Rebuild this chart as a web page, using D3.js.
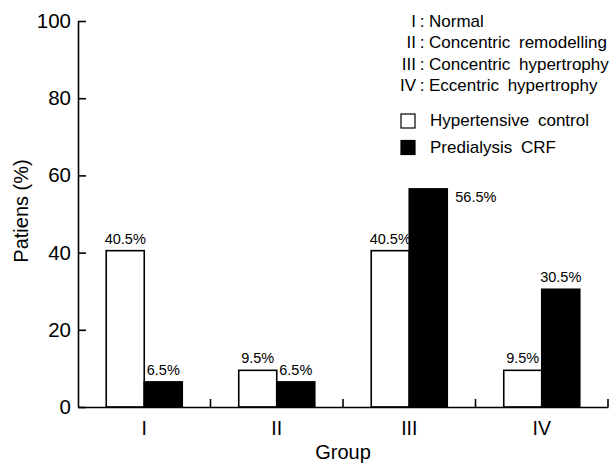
<!DOCTYPE html>
<html>
<head>
<meta charset="utf-8">
<script src="https://cdn.jsdelivr.net/npm/d3@7/dist/d3.min.js"></script>
<style>
  html, body { margin: 0; padding: 0; background: #fff; }
  svg { display: block; font-family: "Liberation Sans", Arial, sans-serif; }
</style>
</head>
<body>
<svg id="chart" width="615" height="463"></svg>
<script>
// LV geometry groups and the share of patients in each
const groups = ["I", "II", "III", "IV"];
const groupNames = ["Normal", "Concentric remodelling", "Concentric hypertrophy", "Eccentric hypertrophy"];
const series = ["Hypertensive control", "Predialysis CRF"];
const hypertensive = [40.5, 9.5, 40.5, 9.5];
const predialysis = [6.5, 6.5, 56.5, 30.5];
const yTicks = [0, 20, 40, 60, 80, 100];

const seriesValues = [hypertensive, predialysis];
const fills = ["#fff", "#000"];

const svg = d3.select("#chart");
const plotLeft = 78, plotRight = 608, plotTop = 21, plotBottom = 407;

const x = d3.scaleBand().domain(groups).range([plotLeft, plotRight]).padding(0);
const xs = d3.scaleBand().domain(series).range([0, x.bandwidth()])
  .paddingInner(0).paddingOuter(0.743);
const y = d3.scaleLinear().domain([0, 100]).range([plotBottom, plotTop]);

const rows = [];
groups.forEach((g, i) => {
  series.forEach((s, j) => rows.push({ g, s, j, v: seriesValues[j][i] }));
});

// bars
svg.append("g").selectAll("rect").data(rows).join("rect")
  .attr("x", d => x(d.g) + xs(d.s))
  .attr("y", d => y(d.v))
  .attr("width", xs.bandwidth())
  .attr("height", d => y(0) - y(d.v))
  .attr("fill", d => fills[d.j])
  .attr("stroke", "#000")
  .attr("stroke-width", 1.6);

// value labels; the tallest CRF bar carries its label beside the top
svg.append("g").selectAll("text").data(rows).join("text")
  .attr("font-size", 14.5)
  .attr("fill", "#000")
  .each(function (d) {
    const t = d3.select(this);
    const bx = x(d.g) + xs(d.s);
    const side = d.j === 1 && d.v === d3.max(predialysis);
    if (side) {
      t.attr("x", bx + xs.bandwidth() + 8).attr("y", y(d.v) + 13).attr("text-anchor", "start");
    } else {
      t.attr("x", bx + xs.bandwidth() / 2).attr("y", y(d.v) - 7).attr("text-anchor", "middle");
    }
  })
  .text(d => d.v.toFixed(1) + "%");

// y axis (ticks pointing inward)
const yAxis = svg.append("g")
  .attr("transform", `translate(${plotLeft},0)`)
  .call(d3.axisLeft(y).tickValues(yTicks).tickSizeInner(-8).tickSizeOuter(0).tickPadding(7));
yAxis.select(".domain").attr("stroke-width", 1.6);
yAxis.selectAll(".tick line").attr("stroke-width", 1.6);
yAxis.selectAll(".tick text").attr("font-size", 20.5).attr("font-family", "Liberation Sans, Arial, sans-serif").attr("fill", "#000");

// x axis with group labels at band centres
const xAxis = svg.append("g")
  .attr("transform", `translate(0,${plotBottom})`)
  .call(d3.axisBottom(x).tickSize(0).tickPadding(14));
xAxis.select(".domain").attr("stroke-width", 1.6);
xAxis.selectAll(".tick text").attr("font-size", 19.5).attr("font-family", "Liberation Sans, Arial, sans-serif").attr("fill", "#000");

// boundary ticks between groups, pointing up
svg.append("g").selectAll("line").data(groups).join("line")
  .attr("x1", d => x(d) + x.bandwidth())
  .attr("x2", d => x(d) + x.bandwidth())
  .attr("y1", plotBottom)
  .attr("y2", plotBottom - 8)
  .attr("stroke", "#000")
  .attr("stroke-width", 1.6);

// axis titles
svg.append("text")
  .attr("transform", `translate(28,211) rotate(-90)`)
  .attr("text-anchor", "middle")
  .attr("font-size", 20)
  .text("Patiens (%)");
svg.append("text")
  .attr("x", (plotLeft + plotRight) / 2)
  .attr("y", 459)
  .attr("text-anchor", "middle")
  .attr("font-size", 20)
  .text("Group");

// legend: group key
const key = svg.append("g").attr("font-size", 17);
groups.forEach((g, i) => {
  const yy = 27 + i * 21.3;
  key.append("text").attr("x", 416).attr("y", yy).attr("text-anchor", "end").text(g);
  key.append("text").attr("x", 422).attr("y", yy).attr("text-anchor", "middle").text(":");
  key.append("text").attr("x", 429).attr("y", yy).attr("word-spacing", 4).text(groupNames[i]);
});

// legend: series swatches
series.forEach((s, j) => {
  const yy = 126 + j * 26.5;
  key.append("rect")
    .attr("x", 401).attr("y", yy - 12).attr("width", 14).attr("height", 14)
    .attr("fill", fills[j]).attr("stroke", "#000").attr("stroke-width", 1.2);
  key.append("text").attr("x", 430).attr("y", yy).attr("word-spacing", 4).text(s);
});
</script>
</body>
</html>
